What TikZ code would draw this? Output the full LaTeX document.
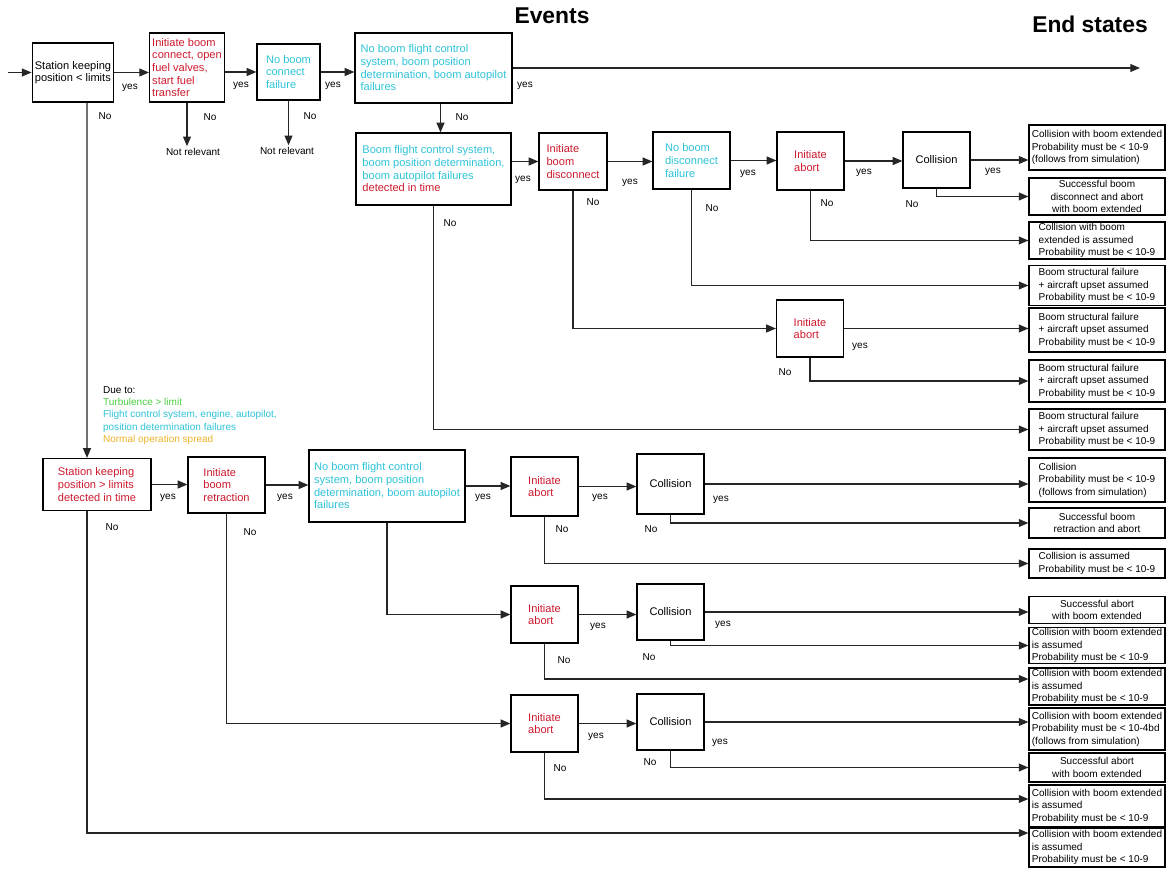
\documentclass[tikz,border=0pt]{standalone}
\usepackage{fontspec}
\setmainfont{Liberation Sans}
\usetikzlibrary{arrows.meta}
\definecolor{evred}{RGB}{205,25,45}
\definecolor{evcyan}{RGB}{45,195,215}
\definecolor{evgreen}{RGB}{75,205,65}
\definecolor{evorange}{RGB}{238,178,40}
\newcommand\evfont{\fontsize{6.3}{7.2}\selectfont}
\newcommand\esfont{\fontsize{5.7}{7.1}\selectfont}

\begin{document}
\begin{tikzpicture}[
    x=0.02cm, y=-0.02cm,
    event/.style={
        draw, line width=0.7pt, font=\evfont, align=left, inner sep=1.5pt
    },
    endstate/.style={
        draw, line width=0.7pt, font=\esfont, minimum width=2.72cm,
        inner xsep=1.5pt, inner ysep=0.5pt
    },
    lbl/.style={font=\esfont, inner sep=1pt},
    flow/.style={-{Triangle[length=5.5pt,width=4.5pt]}, line width=0.7pt, black!85},
    headline/.style={font=\fontsize{13}{15}\selectfont\bfseries}
]
\useasboundingbox (0,0) rectangle (1168,868);

\node[headline] (events) at (552,16) {Events};
\node[headline] (endstates) at (1090,24) {End states};

% first row: connect
\node[event, minimum width=1.56cm, minimum height=1.18cm] (A) at (73,72.5)
    {Station keeping\\position < limits};
\node[event, text=evred, minimum width=1.48cm, minimum height=1.38cm] (B) at (187,67.5)
    {Initiate boom\\connect, open\\fuel valves,\\start fuel\\transfer};
\node[event, text=evcyan, minimum width=1.26cm, minimum height=1.12cm] (C) at (288.5,72)
    {No boom\\connect\\failure};
\node[event, text=evcyan, minimum width=3.14cm, minimum height=1.40cm] (D) at (433.5,68)
    {No boom flight control\\system, boom position\\determination, boom autopilot\\failures};
\node[lbl] (nrB) at (193,152) {Not relevant};
\node[lbl] (nrC) at (287,151) {Not relevant};

% second row: disconnect
\node[event, text=evcyan, minimum width=3.10cm, minimum height=1.44cm] (E) at (433.5,169)
    {Boom flight control system,\\boom position determination,\\boom autopilot failures\\\textcolor{evred}{detected in time}};
\node[event, text=evred, minimum width=1.36cm, minimum height=1.14cm] (F) at (573,161.5)
    {Initiate\\boom\\disconnect};
\node[event, text=evcyan, minimum width=1.54cm, minimum height=1.14cm] (G) at (691.5,160.5)
    {No boom\\disconnect\\failure};
\node[event, text=evred, minimum width=1.34cm, minimum height=1.16cm] (H) at (810.5,161)
    {Initiate\\abort};
\node[event, minimum width=1.34cm, minimum height=1.12cm] (I) at (936.5,160) {Collision};
\node[event, text=evred, minimum width=1.34cm, minimum height=1.14cm] (J) at (810,328.5)
    {Initiate\\abort};

% causes
\node[lbl, anchor=north west, align=left] (dueto) at (101,384)
    {Due to:\\
     \textcolor{evgreen}{Turbulence > limit}\\
     \textcolor{evcyan}{Flight control system, engine, autopilot,}\\
     \textcolor{evcyan}{position determination failures}\\
     \textcolor{evorange}{Normal operation spread}};

% third row: retraction
\node[event, text=evred, minimum width=2.16cm, minimum height=1.04cm] (K) at (97,484.5)
    {Station keeping\\position > limits\\detected in time};
\node[event, text=evred, minimum width=1.54cm, minimum height=1.12cm] (L) at (226.5,485)
    {Initiate\\boom\\retraction};
\node[event, text=evcyan, minimum width=3.12cm, minimum height=1.44cm] (M) at (387,486)
    {No boom flight control\\system, boom position\\determination, boom autopilot\\failures};
\node[event, text=evred, minimum width=1.34cm, minimum height=1.18cm] (N) at (544.5,486.5)
    {Initiate\\abort};
\node[event, minimum width=1.34cm, minimum height=1.20cm] (O) at (670.5,484) {Collision};
\node[event, text=evred, minimum width=1.34cm, minimum height=1.14cm] (P) at (544.5,614.5)
    {Initiate\\abort};
\node[event, minimum width=1.34cm, minimum height=1.12cm] (Q) at (670.5,612) {Collision};
\node[event, text=evred, minimum width=1.34cm, minimum height=1.14cm] (R) at (544.5,723.5)
    {Initiate\\abort};
\node[event, minimum width=1.34cm, minimum height=1.12cm] (S) at (670.5,722) {Collision};

% end states
\foreach \n/\y/\h/\al/\txt in {%
    1/147.5/0.90/left/{Collision with boom extended\\Probability must be < 10-9\\(follows from simulation)},
    2/196.5/0.74/center/{Successful boom\\disconnect and abort\\with boom extended},
    3/240.5/0.74/left/{Collision with boom\\extended is assumed\\Probability must be < 10-9},
    4/285.5/0.80/left/{Boom structural failure\\+ aircraft upset assumed\\Probability must be < 10-9},
    5/330/0.88/left/{Boom structural failure\\+ aircraft upset assumed\\Probability must be < 10-9},
    6/381/0.84/left/{Boom structural failure\\+ aircraft upset assumed\\Probability must be < 10-9},
    7/429.5/0.82/left/{Boom structural failure\\+ aircraft upset assumed\\Probability must be < 10-9},
    8/480/0.88/left/{Collision\\Probability must be < 10-9\\(follows from simulation)},
    9/523/0.60/center/{Successful boom\\retraction and abort},
    10/563.5/0.58/left/{Collision is assumed\\Probability must be < 10-9},
    11/610/0.54/center/{Successful abort\\with boom extended},
    12/645.5/0.72/left/{Collision with boom extended\\is assumed\\Probability must be < 10-9},
    13/686.5/0.74/left/{Collision with boom extended\\is assumed\\Probability must be < 10-9},
    14/729/0.84/left/{Collision with boom extended\\Probability must be < 10-4bd\\(follows from simulation)},
    15/767.5/0.58/center/{Successful abort\\with boom extended},
    16/806/0.84/left/{Collision with boom extended\\is assumed\\Probability must be < 10-9},
    17/847.5/0.78/left/{Collision with boom extended\\is assumed\\Probability must be < 10-9}%
} {
    \node[endstate, minimum height=\h cm, align=\al] (es\n) at (1097,\y) {\txt};
}

% yes / No tags
\foreach \x/\y/\t [count=\k] in {%
    130/88/yes, 241/86/yes, 333/86/yes, 525/86/yes,
    523/180/yes, 630/183/yes, 748/174/yes, 864/173/yes, 993/172/yes, 860/347/yes,
    168/498/yes, 285/498/yes, 483/498/yes, 600/498/yes, 721/500/yes,
    598/627/yes, 723/625/yes, 596/737/yes, 720/743/yes,
    105/116/No, 210/117/No, 310/116/No, 462/117/No,
    450/223/No, 593/202/No, 712/208/No, 827/203/No, 912/204/No, 785/372/No,
    112/527/No, 250/532/No, 562/529/No, 651/529/No,
    564/660/No, 649/657/No, 560/768/No, 650/762/No%
} {
    \node[lbl] (tag\k) at (\x,\y) {\t};
}

% connectors
\coordinate (entry) at (8,72.5);
\coordinate (Dend) at (1140,68);
\draw[flow] (entry) -- (A);
\draw[flow] (A) -- (A -| B.west);
\draw[flow] (B.east |- C) -- (C);
\draw[flow] (C) -- (C -| D.west);
\draw[flow] (D) -- (Dend);
\draw[flow] (B.south) -- (B.south |- nrB.north);
\draw[flow] (C.south) -- (C.south |- nrC.north);
\draw[flow] ([xshift=0.14cm]D.south) -- ([xshift=0.14cm]D.south |- E.north);

\draw[flow] (E.east |- F) -- (F);
\draw[flow] (F) -- (F -| G.west);
\draw[flow] (G) -- (G -| H.west);
\draw[flow] (H) -- (H -| I.west);
\draw[flow] (I) -- (I -| es1.west);
\draw[flow] (I.south) |- (es2);
\draw[flow] (H.south) |- (es3);
\draw[flow] (G.south) |- (es4);
\draw[flow] (F.south) |- (J);
\draw[flow] (J) -- (J -| es5.west);
\draw[flow] (J.south) |- (es6);
\draw[flow] (E.south) |- (es7);

\draw[flow] ([xshift=0.28cm]A.south) -- ([xshift=-0.2cm]K.north);
\draw[flow] (K) -- (K -| L.west);
\draw[flow] (L) -- (L -| M.west);
\draw[flow] (M) -- (M -| N.west);
\draw[flow] (N) -- (N -| O.west);
\draw[flow] (O) -- (O -| es8.west);
\draw[flow] (O.south) |- (es9);
\draw[flow] (N.south) |- (es10);
\draw[flow] (M.south) |- (P);
\draw[flow] (P) -- (P -| Q.west);
\draw[flow] (Q) -- (Q -| es11.west);
\draw[flow] (Q.south) |- (es12);
\draw[flow] (P.south) |- ([yshift=0.15cm]es13.west);
\draw[flow] (L.south) |- (R);
\draw[flow] (R) -- (R -| S.west);
\draw[flow] (S) -- (S -| es14.west);
\draw[flow] (S.south) |- (es15);
\draw[flow] (R.south) |- ([yshift=0.14cm]es16.west);
\draw[flow] ([xshift=-0.2cm]K.south) |- ([yshift=0.29cm]es17.west);
\end{tikzpicture}
\end{document}
